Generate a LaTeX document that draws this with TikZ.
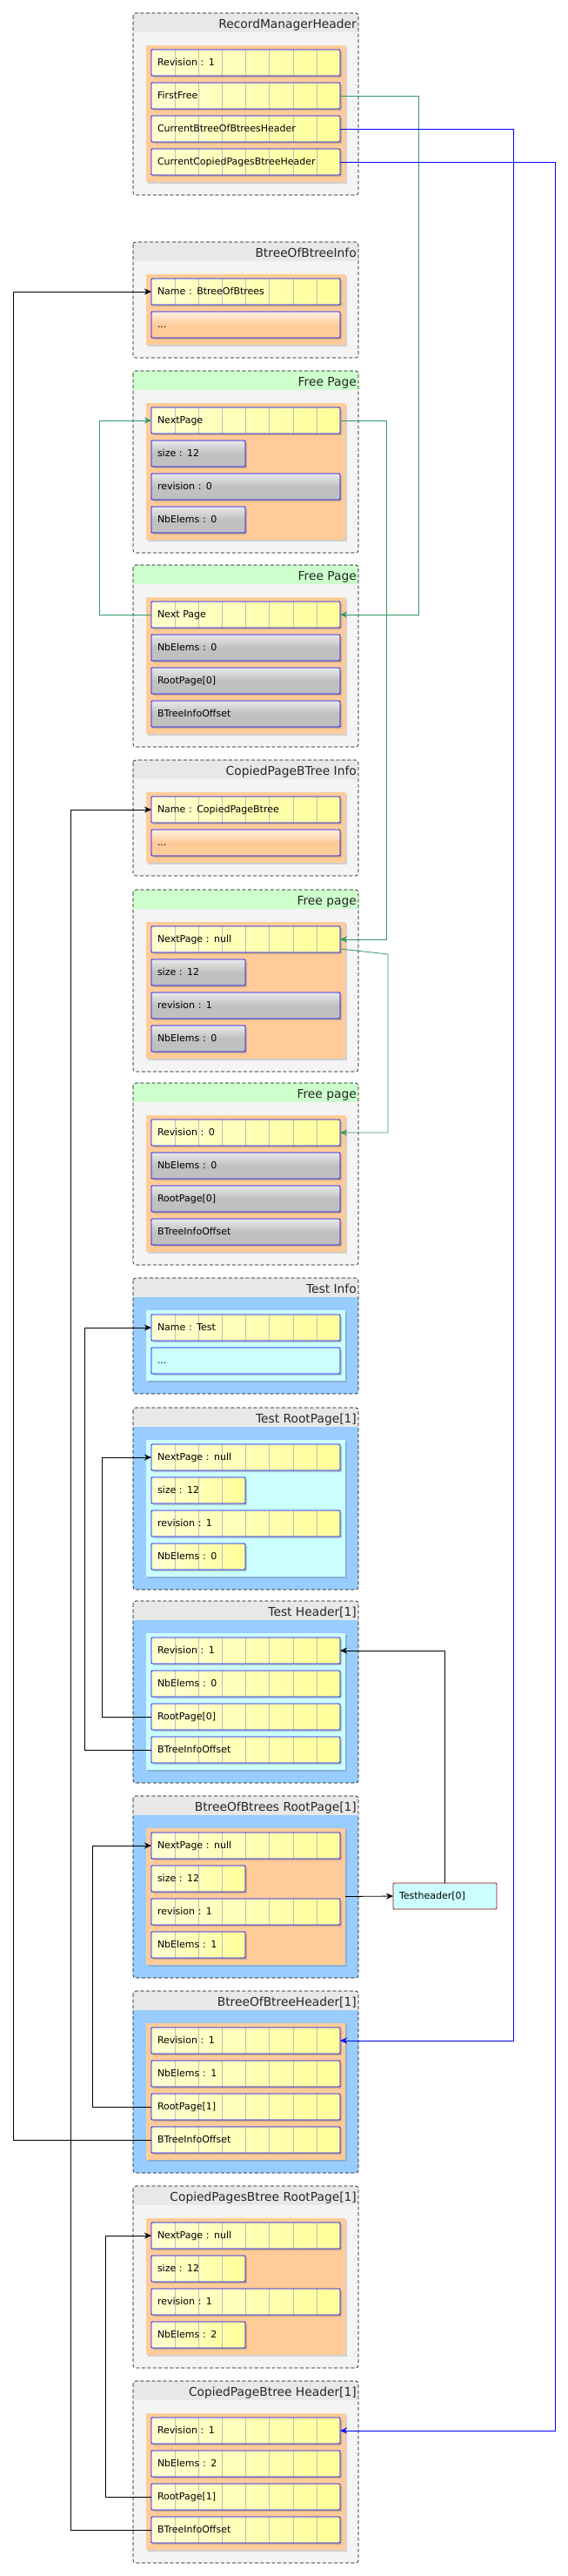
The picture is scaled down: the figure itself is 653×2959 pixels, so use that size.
\documentclass[tikz,border=0pt]{standalone}
\usepackage{fontspec}
\setmainfont{DejaVu Sans}
\usetikzlibrary{arrows.meta,shadows}

\definecolor{boxgray}{HTML}{F4F4F4}
\definecolor{titlegray}{HTML}{E8E8E8}
\definecolor{titlegreen}{HTML}{CCFFCC}
\definecolor{bodyblue}{HTML}{99CCFF}
\definecolor{panelorange}{HTML}{FFCC99}
\definecolor{panelcyan}{HTML}{CCFFFF}
\definecolor{fieldyellow}{HTML}{FFFF99}
\definecolor{fieldgray}{HTML}{C0C0C0}
\definecolor{linkgreen}{HTML}{339966}
\definecolor{linkred}{HTML}{990000}

\tikzset{
  boxborder/.style={draw=black, dash pattern=on 4pt off 2.5pt, line width=0.6pt, rounded corners=3pt},
  boxtitle/.style={anchor=base east, inner sep=0pt, text=black!85, font=\fontsize{13.8}{16}\selectfont},
  panel/.style={anchor=north west, minimum width=229pt, inner sep=0pt, outer sep=0pt,
    drop shadow={shadow xshift=2pt, shadow yshift=-2pt, opacity=0.25, fill=black!60}},
  fieldbox/.style={anchor=north west, draw=blue, line width=0.8pt, rounded corners=1pt,
    minimum height=30pt, inner xsep=7pt, inner ysep=0pt, outer sep=0pt,
    text height=9pt, text depth=2pt, align=left, font=\fontsize{11}{13}\selectfont,
    drop shadow={shadow xshift=2pt, shadow yshift=-2pt, opacity=0.3, fill=black!60}},
  cellgrid/.style={path picture={
    \foreach \cellno in {1,...,7}
      \draw[black!25, line width=0.5pt] ([xshift=\cellno*27.125pt]path picture bounding box.north west)
        -- ([xshift=\cellno*27.125pt]path picture bounding box.south west);}},
  fullwide/.style={text width=203pt},
  halfwide/.style={text width=94pt},
  yfield/.style={fieldbox, cellgrid, left color=fieldyellow!45!white, right color=fieldyellow},
  gfield/.style={fieldbox, top color=fieldgray!35!white, bottom color=fieldgray, middle color=fieldgray},
  ofield/.style={fieldbox, top color=panelorange!30!white, bottom color=panelorange, middle color=panelorange},
  cfield/.style={fieldbox, fill=panelcyan},
  refbox/.style={draw=linkred, fill=panelcyan, line width=0.8pt, rounded corners=1pt,
    minimum height=30pt, text width=105pt, inner xsep=7pt, inner ysep=0pt, outer sep=0pt,
    text height=9pt, text depth=2pt, align=left, font=\fontsize{11}{13}\selectfont},
  link/.style={line width=0.8pt, -{Stealth[length=8pt, width=7pt, inset=2.5pt]}}
}

\newcommand{\pagebox}[7]{%
  \begin{scope}
    \clip[rounded corners=3pt] (153,#2) rectangle (412,#2+57+38*#3);
    \fill[#6] (153,#2) rectangle (412,#2+57+38*#3);
    \fill[#5] (153,#2) rectangle (412,#2+22);
  \end{scope}
  \draw[boxborder] (153,#2) rectangle (412,#2+57+38*#3);
  \node[boxtitle] (#1t) at (410,#2+17) {#4};
  \node[panel, fill=#7, minimum height=38*#3+5] (#1) at (168,#2+37) {};
}
\newcommand{\field}[5]{\node[#2] (#1) at (174,#3+4+38*#4) {#5};}

\begin{document}
\begin{tikzpicture}[x=1pt, y=-1pt]
\useasboundingbox[fill=white] (0,0) rectangle (653,2959);

\pagebox{rmh}{15}{4}{RecordManagerHeader}{titlegray}{boxgray}{panelorange}
\field{rmh1}{yfield,fullwide}{15}{1}{Revision : 1}
\field{rmh2}{yfield,fullwide}{15}{2}{FirstFree}
\field{rmh3}{yfield,fullwide}{15}{3}{CurrentBtreeOfBtreesHeader}
\field{rmh4}{yfield,fullwide}{15}{4}{CurrentCopiedPagesBtreeHeader}

\pagebox{bbi}{278}{2}{BtreeOfBtreeInfo}{titlegray}{boxgray}{panelorange}
\field{bbi1}{yfield,fullwide}{278}{1}{Name : BtreeOfBtrees}
\field{bbi2}{ofield,fullwide}{278}{2}{...}

\pagebox{fpa}{426}{4}{Free Page}{titlegreen}{boxgray}{panelorange}
\field{fpa1}{yfield,fullwide}{426}{1}{NextPage}
\field{fpa2}{gfield,halfwide}{426}{2}{size : 12}
\field{fpa3}{gfield,fullwide}{426}{3}{revision : 0}
\field{fpa4}{gfield,halfwide}{426}{4}{NbElems : 0}

\pagebox{fpb}{649}{4}{Free Page}{titlegreen}{boxgray}{panelorange}
\field{fpb1}{yfield,fullwide}{649}{1}{Next Page}
\field{fpb2}{gfield,fullwide}{649}{2}{NbElems : 0}
\field{fpb3}{gfield,fullwide}{649}{3}{RootPage[0]}
\field{fpb4}{gfield,fullwide}{649}{4}{BTreeInfoOffset}

\pagebox{cpi}{873}{2}{CopiedPageBTree Info}{titlegray}{boxgray}{panelorange}
\field{cpi1}{yfield,fullwide}{873}{1}{Name : CopiedPageBtree}
\field{cpi2}{ofield,fullwide}{873}{2}{...}

\pagebox{fpc}{1022}{4}{Free page}{titlegreen}{boxgray}{panelorange}
\field{fpc1}{yfield,fullwide}{1022}{1}{NextPage : null}
\field{fpc2}{gfield,halfwide}{1022}{2}{size : 12}
\field{fpc3}{gfield,fullwide}{1022}{3}{revision : 1}
\field{fpc4}{gfield,halfwide}{1022}{4}{NbElems : 0}

\pagebox{fpd}{1244}{4}{Free page}{titlegreen}{boxgray}{panelorange}
\field{fpd1}{yfield,fullwide}{1244}{1}{Revision : 0}
\field{fpd2}{gfield,fullwide}{1244}{2}{NbElems : 0}
\field{fpd3}{gfield,fullwide}{1244}{3}{RootPage[0]}
\field{fpd4}{gfield,fullwide}{1244}{4}{BTreeInfoOffset}

\pagebox{tin}{1468}{2}{Test Info}{titlegray}{bodyblue}{panelcyan}
\field{tin1}{yfield,fullwide}{1468}{1}{Name : Test}
\field{tin2}{cfield,fullwide}{1468}{2}{...}

\pagebox{trp}{1617}{4}{Test RootPage[1]}{titlegray}{bodyblue}{panelcyan}
\field{trp1}{yfield,fullwide}{1617}{1}{NextPage : null}
\field{trp2}{yfield,halfwide}{1617}{2}{size : 12}
\field{trp3}{yfield,fullwide}{1617}{3}{revision : 1}
\field{trp4}{yfield,halfwide}{1617}{4}{NbElems : 0}

\pagebox{thd}{1839}{4}{Test Header[1]}{titlegray}{bodyblue}{panelcyan}
\field{thd1}{yfield,fullwide}{1839}{1}{Revision : 1}
\field{thd2}{yfield,fullwide}{1839}{2}{NbElems : 0}
\field{thd3}{yfield,fullwide}{1839}{3}{RootPage[0]}
\field{thd4}{yfield,fullwide}{1839}{4}{BTreeInfoOffset}

\pagebox{brp}{2063}{4}{BtreeOfBtrees RootPage[1]}{titlegray}{bodyblue}{panelorange}
\field{brp1}{yfield,fullwide}{2063}{1}{NextPage : null}
\field{brp2}{yfield,halfwide}{2063}{2}{size : 12}
\field{brp3}{yfield,fullwide}{2063}{3}{revision : 1}
\field{brp4}{yfield,halfwide}{2063}{4}{NbElems : 1}

\pagebox{bhd}{2287}{4}{BtreeOfBtreeHeader[1]}{titlegray}{bodyblue}{panelorange}
\field{bhd1}{yfield,fullwide}{2287}{1}{Revision : 1}
\field{bhd2}{yfield,fullwide}{2287}{2}{NbElems : 1}
\field{bhd3}{yfield,fullwide}{2287}{3}{RootPage[1]}
\field{bhd4}{yfield,fullwide}{2287}{4}{BTreeInfoOffset}

\pagebox{crp}{2511}{4}{CopiedPagesBtree RootPage[1]}{titlegray}{boxgray}{panelorange}
\field{crp1}{yfield,fullwide}{2511}{1}{NextPage : null}
\field{crp2}{yfield,halfwide}{2511}{2}{size : 12}
\field{crp3}{yfield,fullwide}{2511}{3}{revision : 1}
\field{crp4}{yfield,halfwide}{2511}{4}{NbElems : 2}

\pagebox{chd}{2735}{4}{CopiedPageBtree Header[1]}{titlegray}{boxgray}{panelorange}
\field{chd1}{yfield,fullwide}{2735}{1}{Revision : 1}
\field{chd2}{yfield,fullwide}{2735}{2}{NbElems : 2}
\field{chd3}{yfield,fullwide}{2735}{3}{RootPage[1]}
\field{chd4}{yfield,fullwide}{2735}{4}{BTreeInfoOffset}

\node[refbox] (th0) at (511.5,2178) {Testheader[0]};

\draw[link] (bhd4.west) -- ++(-159,0) |- (bbi1.west);
\draw[link] (chd4.west) -- ++(-93,0) |- (cpi1.west);
\draw[link] (thd4.west) -- ++(-77,0) |- (tin1.west);
\draw[link] (thd3.west) -- ++(-57,0) |- (trp1.west);
\draw[link] (bhd3.west) -- ++(-68,0) |- (brp1.west);
\draw[link] (chd3.west) -- ++(-53,0) |- (crp1.west);
\draw[link] (brp.east) -- (th0.west);
\draw[link] (th0.north) |- (thd1.east);
\draw[link, linkgreen] (rmh2.east) -- ++(90,0) |- (fpb1.east);
\draw[link, linkgreen] (fpb1.west) -- ++(-60,0) |- (fpa1.west);
\draw[link, linkgreen] (fpa1.east) -- ++(53,0) |- (fpc1.east);
\draw[link, linkgreen] ([yshift=4pt]fpc1.south east) -- ++(55,6) |- (fpd1.east);
\draw[link, blue] (rmh3.east) -- ++(199,0) |- (bhd1.east);
\draw[link, blue] (rmh4.east) -- ++(247,0) |- (chd1.east);
\end{tikzpicture}
\end{document}
